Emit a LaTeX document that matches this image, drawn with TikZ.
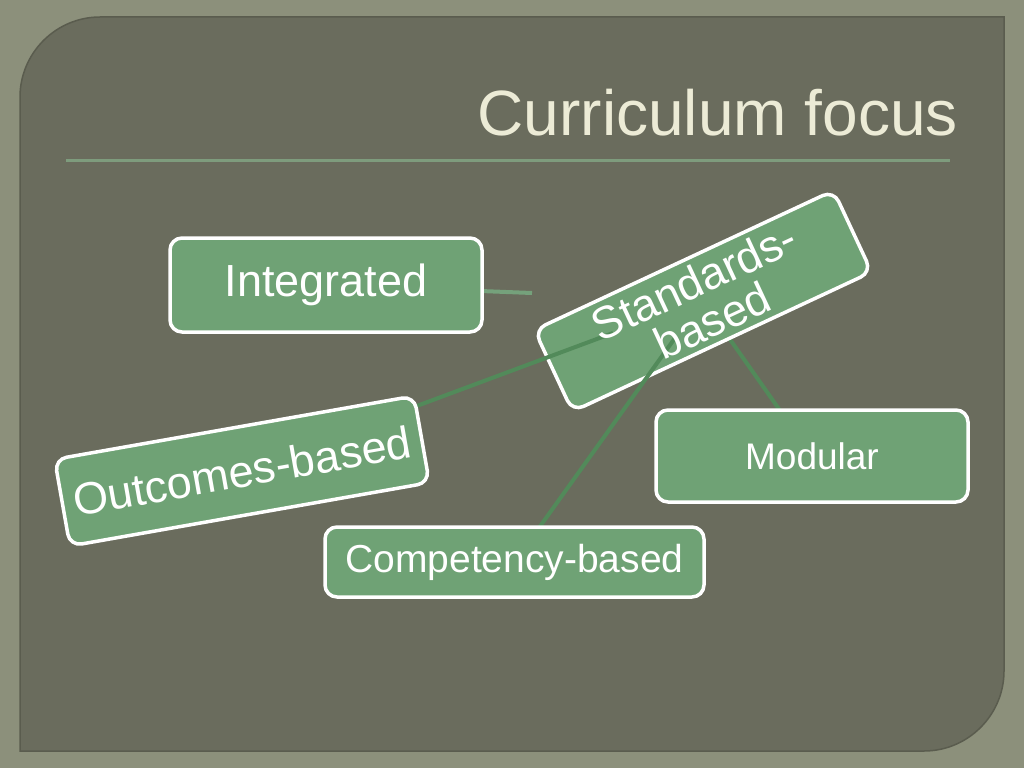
\documentclass[tikz,border=0pt]{standalone}
\usepackage{fontspec}
\setmainfont{Liberation Sans}
\definecolor{outerbg}{HTML}{8C907B}
\definecolor{panelbg}{HTML}{6A6C5D}
\definecolor{paneledge}{HTML}{5A5C4E}
\definecolor{boxgreen}{HTML}{6FA275}
\definecolor{conngreen}{HTML}{528A5A}
\definecolor{rulegreen}{HTML}{7E9C7D}
\definecolor{titlecream}{HTML}{ECEBD6}
\pgfdeclarelayer{bg}
\pgfdeclarelayer{low}
\pgfdeclarelayer{stdl}
\pgfdeclarelayer{conn}
\pgfsetlayers{bg,low,stdl,conn,main}
\tikzset{
  gbox/.style={rectangle, rounded corners=12pt, fill=boxgreen, draw=white,
    line width=3.5pt, inner sep=0pt, text=white, align=center},
  conn/.style={draw=conngreen, line width=4pt},
  bigtext/.style={font=\fontsize{45}{43}\selectfont},
  midtext/.style={font=\fontsize{37}{40}\selectfont},
}
\begin{document}
\begin{tikzpicture}[x=1pt,y=-1pt]
\useasboundingbox (0,0) rectangle (1024,768);
\begin{pgfonlayer}{bg}
  \fill[outerbg] (0,0) rectangle (1024,768);
  \fill[panelbg, draw=paneledge, line width=1.5pt]
    (20,751) -- (20,97) .. controls (20,53) and (56,17) .. (100,17)
    -- (1004,17) -- (1004,671) .. controls (1004,715) and (968,751) .. (924,751)
    -- cycle;
  \draw[rulegreen, line width=3pt] (66,160) -- (950,160);
  \node[anchor=base east, text=titlecream, inner sep=0pt,
    font=\fontsize{64}{64}\selectfont] (title) at (958,135) {Curriculum focus};
\end{pgfonlayer}

% boxes
\node[gbox, bigtext, minimum width=312pt, minimum height=94pt] (integ) at (326,285) {Integrated};
\node[gbox, midtext, minimum width=312pt, minimum height=92pt] (mod) at (812,456) {Modular};
\node[gbox, font=\fontsize{39}{40}\selectfont, minimum width=379pt, minimum height=70pt] (comp) at (514.5,562) {Competency-based};
\node[gbox, bigtext, rotate=10, minimum width=365pt, minimum height=88pt] (outc) at (242,471) {Outcomes-based};
\begin{pgfonlayer}{stdl}
  \node[gbox, rotate=25, minimum width=330pt, minimum height=90pt] (std) at (703,301) {};
\end{pgfonlayer}
\node[rotate=25, text=white, align=center, bigtext, inner sep=0pt] (stdtext) at (std.center) {Standards-\\based};

% connector ends
\coordinate (integend) at (532,293);
\coordinate (outcend) at (613,333);
\coordinate (compend) at (675,338);

\begin{pgfonlayer}{low}
  \draw[conn] (std.center) -- (mod.center);
  \draw[conn, draw=conngreen!80!white] (integ.center) -- (integend);
\end{pgfonlayer}
\begin{pgfonlayer}{conn}
  \draw[conn] (outc.center) -- (outcend);
  \draw[conn] (comp.center) -- (compend);
\end{pgfonlayer}
\end{tikzpicture}
\end{document}
